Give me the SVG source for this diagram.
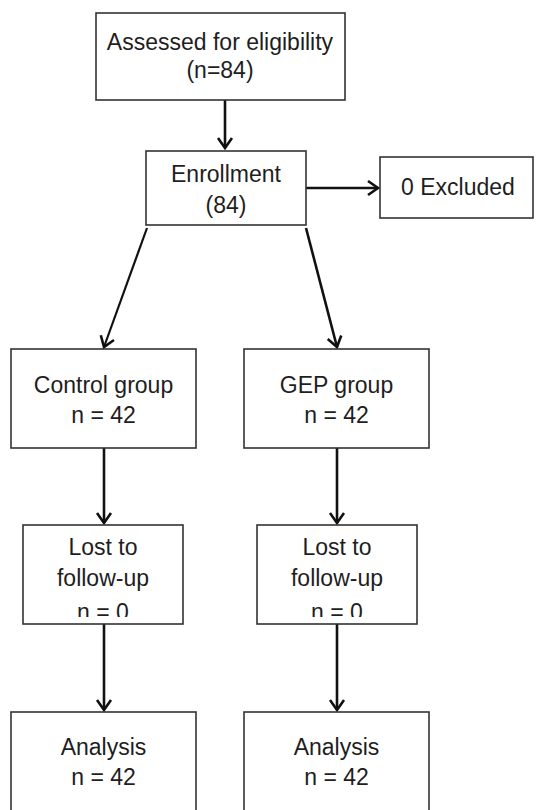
<svg xmlns="http://www.w3.org/2000/svg" width="537" height="810" viewBox="0 0 537 810">
<style>
.box{fill:#fff;stroke:#333;stroke-width:1.6}
.t{font-family:"Liberation Sans",Arial,sans-serif;font-size:23px;fill:#1e1e1e;text-anchor:middle}
.c{fill:none;stroke:#111;stroke-width:2.6}
</style>
<defs>
<marker id="ah" markerUnits="userSpaceOnUse" markerWidth="20" markerHeight="20" viewBox="-12 -10 14 20" refX="0" refY="0" orient="auto">
<path d="M-10,-7 L0,0 L-10,7" fill="none" stroke="#111" stroke-width="2.6"/>
</marker>
<clipPath id="clipL"><rect x="0" y="0" width="537" height="617"/></clipPath>
</defs>
<rect width="537" height="810" fill="#fff"/>
<g id="connectors">
<line class="c" x1="225" y1="100" x2="225" y2="148" marker-end="url(#ah)"/>
<line class="c" x1="306" y1="188" x2="378" y2="188" marker-end="url(#ah)"/>
<line class="c" x1="147" y1="228" x2="104" y2="347" marker-end="url(#ah)" style="stroke-width:2.2"/>
<line class="c" x1="306" y1="228" x2="337" y2="347" marker-end="url(#ah)"/>
<line class="c" x1="104" y1="448" x2="104" y2="523" marker-end="url(#ah)"/>
<line class="c" x1="337" y1="448" x2="337" y2="523" marker-end="url(#ah)"/>
<line class="c" x1="104" y1="624" x2="104" y2="710" marker-end="url(#ah)"/>
<line class="c" x1="337" y1="624" x2="337" y2="710" marker-end="url(#ah)"/>
</g>
<g id="assessed">
<rect class="box" x="96" y="13" width="249" height="87"/>
<text class="t" x="220" y="50">Assessed for eligibility</text>
<text class="t" x="220" y="78">(n=84)</text>
</g>
<g id="enrollment">
<rect class="box" x="146" y="151" width="160" height="74"/>
<text class="t" x="226" y="182">Enrollment</text>
<text class="t" x="226" y="213">(84)</text>
</g>
<g id="excluded">
<rect class="box" x="380" y="157" width="153" height="61"/>
<text class="t" x="458" y="195">0 Excluded</text>
</g>
<g id="control">
<rect class="box" x="11" y="349" width="185" height="99"/>
<text class="t" x="103.5" y="393">Control group</text>
<text class="t" x="103.5" y="423">n = 42</text>
</g>
<g id="gep">
<rect class="box" x="244" y="349" width="185" height="99"/>
<text class="t" x="336.5" y="393">GEP group</text>
<text class="t" x="336.5" y="423">n = 42</text>
</g>
<g id="lost-control">
<rect class="box" x="23" y="525" width="160" height="99"/>
<text class="t" x="103" y="555">Lost to</text>
<text class="t" x="103" y="586">follow-up</text>
<text class="t" x="103" y="620" clip-path="url(#clipL)">n = 0</text>
</g>
<g id="lost-gep">
<rect class="box" x="257" y="525" width="160" height="99"/>
<text class="t" x="337" y="555">Lost to</text>
<text class="t" x="337" y="586">follow-up</text>
<text class="t" x="337" y="620" clip-path="url(#clipL)">n = 0</text>
</g>
<g id="analysis-control">
<rect class="box" x="11" y="712" width="185" height="110"/>
<text class="t" x="103.5" y="755">Analysis</text>
<text class="t" x="103.5" y="785">n = 42</text>
</g>
<g id="analysis-gep">
<rect class="box" x="244" y="712" width="185" height="110"/>
<text class="t" x="336.5" y="755">Analysis</text>
<text class="t" x="336.5" y="785">n = 42</text>
</g>
</svg>
